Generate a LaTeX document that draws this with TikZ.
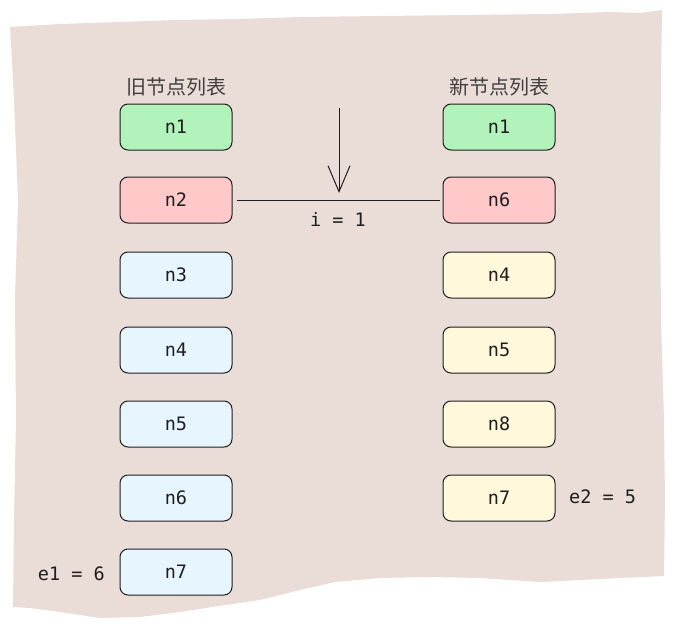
\documentclass[tikz,border=0pt]{standalone}
\usepackage{fontspec}
\setmonofont{DejaVu Sans Mono}
\newfontfamily\cjk{Noto Sans CJK SC}
\usetikzlibrary{arrows.meta}
\definecolor{paper}{HTML}{EADCD7}
\definecolor{ink}{HTML}{1E1E1E}
\definecolor{cgreen}{HTML}{B2F2BB}
\definecolor{cred}{HTML}{FFC9C9}
\definecolor{cblue}{HTML}{E7F5FF}
\definecolor{cyellow}{HTML}{FFF8DB}
\tikzset{
  item/.style={draw=ink, line width=1pt, rounded corners=8pt, minimum width=112pt, minimum height=46pt, inner sep=0pt, font=\ttfamily\fontsize{18.5}{22}\selectfont, text=ink},
  title/.style={font=\cjk\fontsize{20}{24}\selectfont, text=ink!85, inner sep=0pt},
  lbl/.style={font=\ttfamily\fontsize{18.5}{22}\selectfont, text=ink, inner sep=0pt},
  conn/.style={draw=ink, line width=1pt}
}
\begin{document}
\begin{tikzpicture}[x=1pt,y=-1pt]
\useasboundingbox (0,0) rectangle (681,629);
\fill[paper] (10,27) -- (60,24) -- (120,22) -- (175,20) -- (240,19) -- (300,17) -- (380,16) -- (470,15) -- (550,14) -- (610,12) -- (640,13) -- (662,10)
 -- (661,80) -- (660,200) -- (661,320) -- (664,420) -- (665,500) -- (664,576)
 -- (600,579) -- (540,582) -- (480,578) -- (430,577) -- (380,578) -- (335,582) -- (300,590) -- (260,600) -- (225,605) -- (180,612) -- (140,617) -- (100,618) -- (60,612) -- (30,608) -- (13,607)
 -- (14,520) -- (16,420) -- (15,300) -- (18,200) -- (14,100) -- (12,60) -- cycle;
\node[title] (tl) at (176,87) {旧节点列表};
\node[title] (tr) at (499,87) {新节点列表};
\node[item, fill=cgreen] (o1) at (176,127) {n1};
\node[item, fill=cred] (o2) at (176,200) {n2};
\node[item, fill=cblue] (o3) at (176,275) {n3};
\node[item, fill=cblue] (o4) at (176,350) {n4};
\node[item, fill=cblue] (o5) at (176,424) {n5};
\node[item, fill=cblue] (o6) at (176,498) {n6};
\node[item, fill=cblue] (o7) at (176,572) {n7};
\node[item, fill=cgreen] (r1) at (499,127) {n1};
\node[item, fill=cred] (r2) at (499,200) {n6};
\node[item, fill=cyellow] (r3) at (499,275) {n4};
\node[item, fill=cyellow] (r4) at (499,350) {n5};
\node[item, fill=cyellow] (r5) at (499,424) {n8};
\node[item, fill=cyellow] (r6) at (499,498) {n7};
\node[lbl, anchor=east] (e1) at (105,574) {e1 = 6};
\node[lbl, anchor=west] (e2) at (569,497) {e2 = 5};
\node[lbl] (i) at (338,219) {i = 1};
\coordinate (atop) at (339,108);
\coordinate (abot) at (339,193);
\draw[conn, -{Straight Barb[length=26pt,width=22pt]}] (atop) -- (abot);
\draw[conn] ([xshift=4pt]o2.east) -- ([xshift=-3pt]r2.west);
\end{tikzpicture}
\end{document}
